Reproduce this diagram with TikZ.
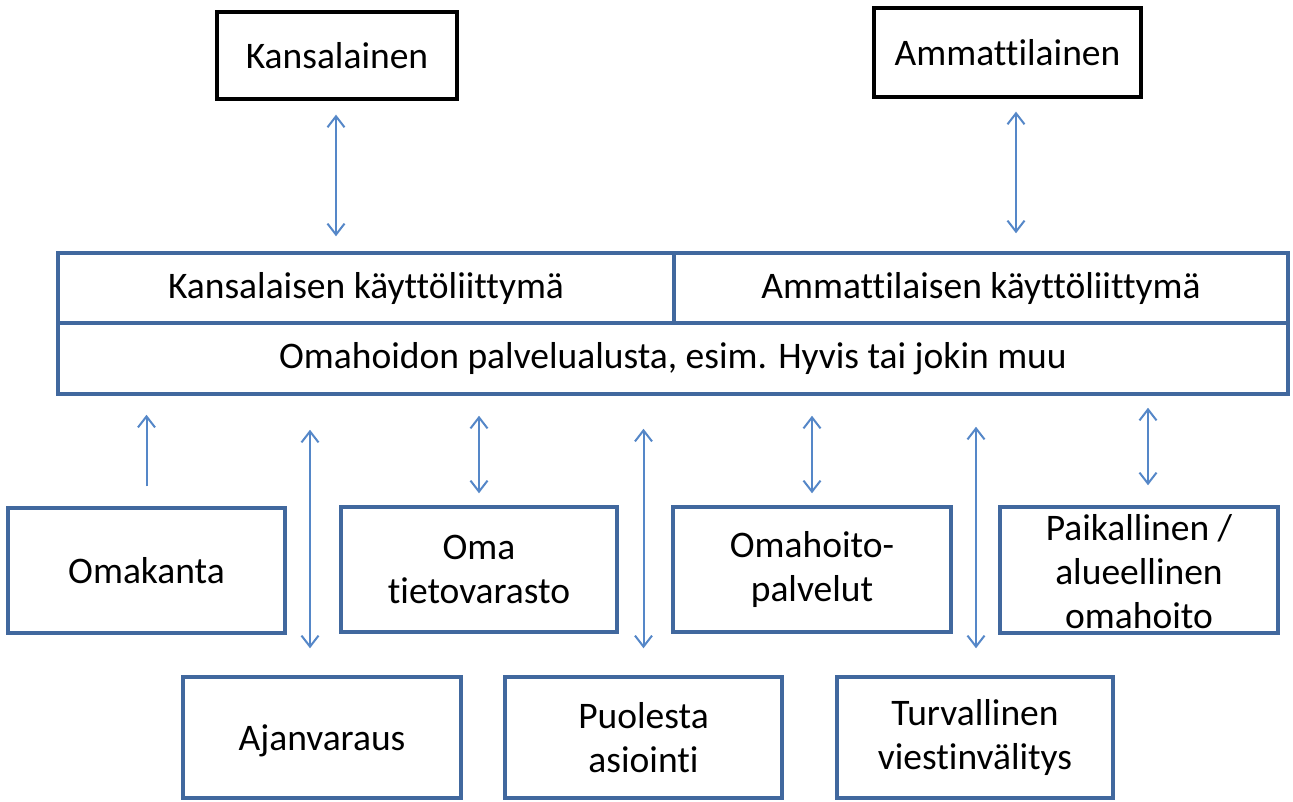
\documentclass[tikz,border=0pt]{standalone}
\usepackage{fontspec}
\setmainfont[Ligatures=NoCommon]{Carlito}
\usetikzlibrary{arrows.meta}
\definecolor{boxblue}{RGB}{65,104,158}
\definecolor{arrblue}{RGB}{85,135,200}
\begin{document}
\begin{tikzpicture}[x=1pt,y=-1pt,
  every node/.style={font=\fontsize{37.5}{44}\selectfont, align=center, inner sep=0pt},
  blackbox/.style={draw=black, line width=3.3pt, rectangle},
  bluebox/.style={draw=boxblue, line width=3.5pt, rectangle},
  conn/.style={draw=arrblue, line width=2pt},
  bi/.style={conn, {Straight Barb[length=11pt,width=17pt]}-{Straight Barb[length=11pt,width=17pt]}},
  uni/.style={conn, -{Straight Barb[length=11pt,width=17pt]}}]
\useasboundingbox[fill=white] (0,0) rectangle (1293,801);
% top boxes
\node[blackbox, minimum width=240pt, minimum height=87pt] (kans) at (337,55.5) {Kansalainen};
\node[blackbox, minimum width=267pt, minimum height=89pt] (amm) at (1007.5,52.5) {Ammattilainen};
% platform
\node[bluebox, minimum width=1230pt, minimum height=71pt] (alusta) at (673,358.5) {Omahoidon palvelualusta, esim. Hyvis tai jokin muu};
\node[bluebox, minimum width=616pt, minimum height=70pt] (kl) at (366,288) {Kansalaisen käyttöliittymä};
\node[bluebox, minimum width=614pt, minimum height=70pt] (al) at (981,288) {Ammattilaisen käyttöliittymä};
% middle row
\node[bluebox, minimum width=277pt, minimum height=125pt] (omak) at (146.5,570.5) {Omakanta};
\node[bluebox, minimum width=276pt, minimum height=125pt] (tieto) at (479,569.5) {Oma\\tietovarasto};
\node[bluebox, minimum width=278pt, minimum height=125pt] (omah) at (812,569.5) {Omahoito-\\palvelut};
\node[bluebox, minimum width=278pt, minimum height=126pt] (paik) at (1139,570) {};
\node (paiktxt) at (1139,572) {Paikallinen /\\alueellinen\\omahoito};
% bottom row
\node[bluebox, minimum width=278pt, minimum height=121pt, text depth=0pt] (ajan) at (322,737.5) {Ajanvaraus};
\node[bluebox, minimum width=277pt, minimum height=121pt] (puol) at (643.5,737.5) {Puolesta\\asiointi};
\node[bluebox, minimum width=276pt, minimum height=121pt] (turv) at (975,737.5) {Turvallinen\\viestinvälitys};
% connectors
\draw[bi, shorten <=14pt, shorten >=15pt] ([xshift=-1pt]kans.south) -- ([xshift=-1pt]kans.south |- kl.north);
\draw[bi, shorten <=13pt, shorten >=18pt] ([xshift=8.5pt]amm.south) -- ([xshift=8.5pt]amm.south |- al.north);
\draw[uni, shorten <=20pt, shorten >=19pt] (omak.north) -- (omak.north |- alusta.south);
\draw[bi, shorten <=27pt, shorten >=34pt] ([xshift=-12pt]ajan.north) -- ([xshift=-12pt]ajan.north |- alusta.south);
\draw[bi, shorten <=12pt, shorten >=20pt] (tieto.north) -- (tieto.north |- alusta.south);
\draw[bi, shorten <=27pt, shorten >=33pt] (puol.north) -- (puol.north |- alusta.south);
\draw[bi, shorten <=12pt, shorten >=20pt] (omah.north) -- (omah.north |- alusta.south);
\draw[bi, shorten <=27pt, shorten >=31pt] ([xshift=1pt]turv.north) -- ([xshift=1pt]turv.north |- alusta.south);
\draw[bi, shorten <=20pt, shorten >=12pt] ([xshift=9pt]paik.north) -- ([xshift=9pt]paik.north |- alusta.south);
\end{tikzpicture}
\end{document}
